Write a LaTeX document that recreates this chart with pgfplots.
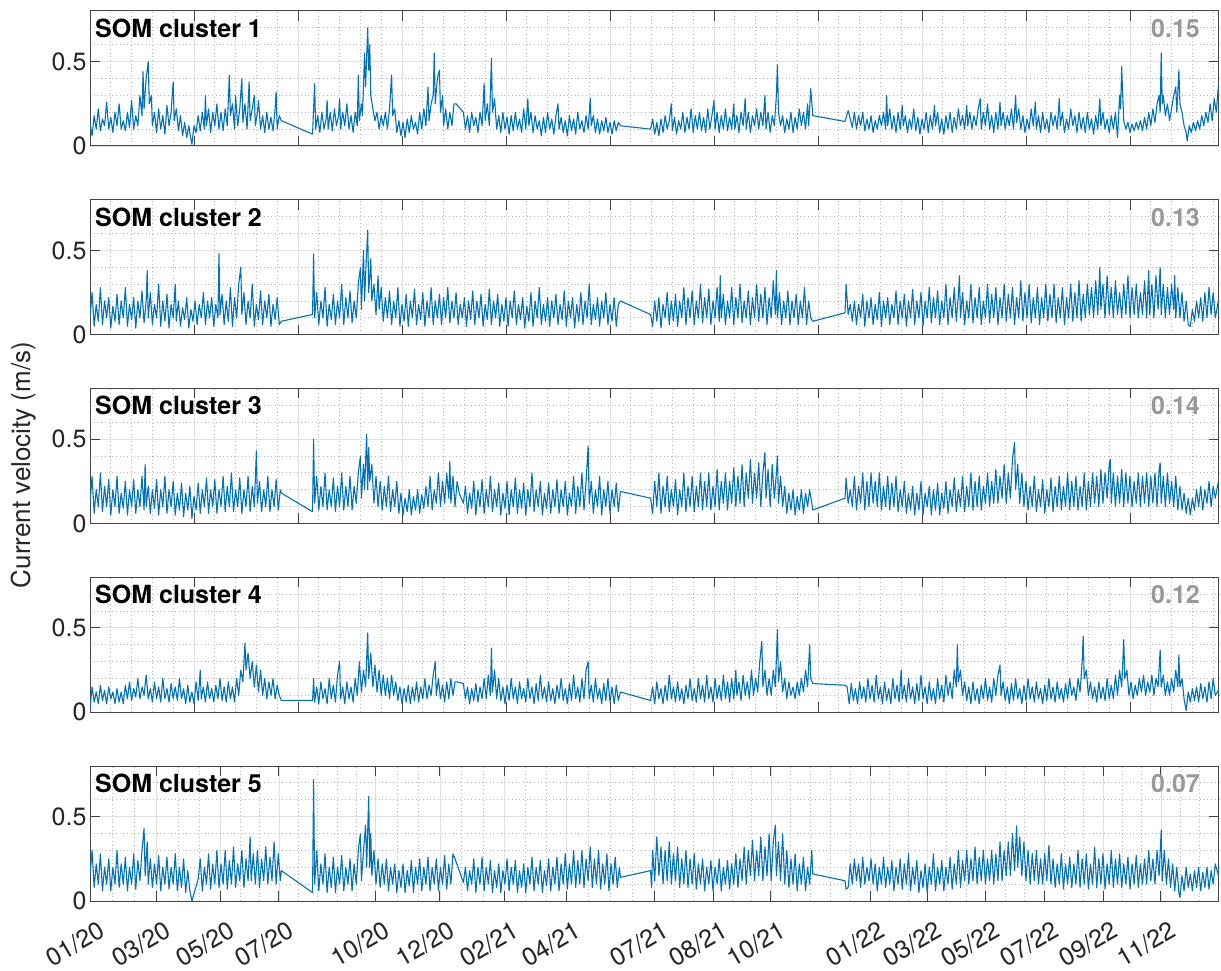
\documentclass[border=0pt]{standalone}
\usepackage{fontspec}
\setmainfont{TeX Gyre Heros}
\usepackage{pgfplots}
\pgfplotsset{compat=1.18}
\definecolor{mblue}{RGB}{0,114,189}
\definecolor{mgray}{RGB}{153,153,153}
\newcommand{\fs}{\fontsize{25}{30}\selectfont}
\pgfplotsset{
 panel/.style={
  scale only axis, width=1128.7pt, height=135pt,
  xmin=0, xmax=1085.3, ymin=0, ymax=0.8,
  ytick={0,0.5}, yticklabels={0,0.5},
  minor ytick={0.1,0.2,0.3,0.4,0.6,0.7},
  xtick={0,100,...,1000}, xticklabels={},
  minor xtick={20,40,60,80,120,140,160,180,220,240,260,280,320,340,360,380,420,440,460,480,520,540,560,580,620,640,660,680,720,740,760,780,820,840,860,880,920,940,960,980,1020,1040,1060,1080},
  grid=both,
  major grid style={draw=black!12, line width=0.9pt},
  minor grid style={draw=black!28, line width=0.9pt, dash pattern=on 0.9pt off 2.8pt},
  tick align=inside,
  major tick length=10pt, minor tick length=0pt,
  axis line style={draw=black!72, line width=1pt},
  every tick/.style={draw=black!75, line width=1pt},
  tick label style={font=\fs, text=black!85},
 },
 dat/.style={draw=mblue, line width=1.1pt, line join=round, mark=none},
}
\newcommand{\lab}[2]{%
 \node[anchor=base west, inner sep=0pt, xshift=5pt, yshift=-26.3pt, font=\fs\bfseries] at (rel axis cs:0,1) {SOM cluster #1};
 \node[anchor=base east, inner sep=0pt, xshift=-18.7pt, yshift=-26.3pt, font=\fs\bfseries, text=mgray] at (rel axis cs:1,1) {#2};}
\begin{document}
\begin{tikzpicture}
\useasboundingbox (0,0) rectangle (1221pt,970pt);
\node[rotate=90, anchor=base, font=\fontsize{26}{30}\selectfont, text=black!85] at (31pt,505pt) {Current velocity (m/s)};
% ---------- panel 1
\begin{axis}[panel, at={(90pt,824pt)}, anchor=south west]
\addplot[dat] coordinates {(0,.14)(2,.06)(4,.18)(6,.1)(8,.22)(10,.09)(12,.16)(14,.12)(16,.26)(18,.1)(20,.17)(22,.08)(24,.2)(26,.12)(28,.25)(30,.1)(32,.15)(34,.09)(36,.2)(38,.11)(40,.27)(42,.1)(44,.18)(46,.12)(48,.3)(50,.18)(51,.44)(52,.22)(54,.4)(56,.5)(57,.25)(59,.3)(60,.12)(62,.2)(64,.08)(66,.22)(68,.1)(70,.18)(72,.07)(74,.24)(76,.12)(78,.2)(80,.38)(81,.15)(83,.22)(85,.09)(87,.18)(89,.06)(91,.14)(93,.05)(95,.12)(97,.04)(98,.01)(100,.12)(102,.08)(104,.18)(106,.09)(108,.2)(110,.1)(111,.3)(112,.12)(114,.22)(116,.08)(118,.2)(120,.12)(122,.25)(124,.1)(126,.2)(128,.09)(130,.22)(132,.12)(134,.42)(135,.18)(137,.25)(139,.1)(140,.3)(142,.12)(144,.22)(146,.4)(147,.14)(149,.25)(151,.1)(153,.38)(154,.15)(156,.22)(158,.3)(159,.12)(161,.2)(162,.27)(164,.1)(166,.18)(168,.08)(170,.2)(172,.1)(174,.17)(176,.09)(178,.22)(179,.32)(180,.1)(182,.18)(184,.15)
(214,.07)(216,.37)(217,.1)(219,.18)(221,.08)(223,.2)(225,.1)(227,.16)(228,.27)(229,.1)(231,.2)(233,.09)(235,.22)(237,.12)(239,.18)(240,.28)(241,.1)(243,.2)(245,.12)(247,.25)(249,.1)(251,.18)(253,.08)(255,.2)(257,.12)(258,.42)(259,.15)(261,.25)(262,.18)(264,.55)(265,.35)(267,.7)(268,.45)(269,.6)(270,.3)(272,.22)(274,.15)(276,.2)(278,.1)(280,.18)(282,.12)(284,.2)(286,.1)(288,.22)(290,.42)(291,.18)(293,.22)(295,.08)(297,.15)(299,.06)(301,.14)(303,.05)(305,.16)(307,.08)(309,.18)(311,.1)(313,.14)(315,.07)(317,.2)(319,.1)(321,.22)(323,.12)(325,.35)(326,.15)(328,.25)(330,.3)(331,.55)(332,.25)(334,.4)(336,.45)(337,.2)(339,.3)(340,.12)(342,.22)(344,.1)(346,.2)(348,.12)(350,.25)(352,.25)
(359,.2)(361,.1)(363,.18)(365,.08)(367,.2)(369,.12)(371,.17)(373,.08)(375,.2)(377,.12)(379,.37)(380,.15)(382,.25)(384,.12)(386,.52)(387,.2)(389,.28)(391,.1)(393,.18)(395,.08)(397,.2)(399,.1)(401,.17)(403,.07)(405,.18)(407,.09)(409,.2)(411,.1)(413,.16)(415,.08)(417,.22)(419,.1)(421,.28)(422,.12)(424,.2)(426,.08)(428,.18)(430,.1)(432,.15)(434,.06)(436,.17)(438,.08)(440,.2)(442,.1)(444,.16)(446,.07)(448,.18)(450,.25)(451,.1)(453,.17)(455,.08)(457,.15)(459,.06)(461,.18)(463,.09)(465,.16)(467,.07)(469,.2)(471,.1)(473,.15)(475,.08)(477,.18)(479,.1)(481,.28)(482,.12)(484,.18)(486,.08)(488,.16)(490,.07)(492,.15)(494,.09)(496,.17)(498,.08)(500,.14)(502,.07)(504,.15)(506,.09)(508,.14)(510,.12)
(539,.1)(541,.16)(543,.07)(545,.14)(547,.06)(549,.16)(551,.08)(553,.18)(555,.1)(557,.15)(559,.25)(560,.09)(562,.17)(564,.07)(566,.15)(568,.1)(570,.2)(572,.08)(574,.17)(576,.1)(578,.22)(580,.08)(582,.18)(584,.1)(586,.2)(588,.09)(590,.17)(592,.08)(594,.22)(596,.1)(598,.18)(600,.27)(601,.1)(603,.2)(605,.08)(607,.18)(609,.1)(611,.22)(613,.09)(615,.17)(617,.1)(619,.25)(620,.1)(622,.18)(624,.08)(626,.2)(628,.12)(630,.28)(631,.1)(633,.2)(635,.08)(637,.18)(639,.12)(641,.22)(643,.1)(645,.2)(647,.12)(649,.3)(650,.1)(652,.2)(654,.08)(656,.18)(658,.12)(660,.3)(661,.48)(662,.2)(664,.12)(666,.18)(668,.08)(670,.16)(672,.1)(674,.2)(676,.08)(678,.17)(680,.1)(682,.22)(684,.12)(686,.2)(688,.1)(690,.25)(691,.12)(693,.34)(695,.18)
(726,.145)(729,.21)(733,.11)(735,.2)(737,.1)(739,.18)(741,.12)(743,.2)(745,.09)(747,.16)(749,.1)(751,.18)(753,.08)(755,.15)(757,.1)(759,.18)(761,.12)(763,.2)(765,.1)(766,.3)(767,.12)(769,.22)(771,.1)(773,.18)(775,.08)(777,.2)(779,.1)(781,.24)(782,.12)(784,.18)(786,.08)(788,.16)(790,.1)(792,.22)(794,.09)(796,.17)(798,.07)(800,.16)(802,.1)(804,.2)(806,.08)(808,.18)(810,.1)(812,.24)(813,.12)(815,.2)(817,.08)(819,.16)(821,.07)(823,.18)(825,.1)(827,.2)(829,.08)(831,.17)(833,.1)(835,.22)(837,.12)(839,.18)(841,.1)(843,.24)(844,.12)(846,.2)(848,.1)(850,.18)(852,.12)(854,.22)(856,.28)(857,.1)(859,.2)(861,.12)(863,.25)(865,.1)(867,.18)(869,.08)(871,.2)(873,.1)(875,.26)(876,.12)(878,.2)(880,.1)(882,.18)(884,.12)(886,.22)(888,.1)(890,.3)(891,.14)(893,.22)(895,.1)(897,.18)(899,.08)(901,.16)(903,.1)(905,.22)(907,.12)(909,.26)(910,.1)(912,.18)(914,.08)(916,.2)(918,.1)(920,.16)(922,.08)(924,.2)(926,.12)(928,.18)(930,.1)(932,.28)(933,.12)(935,.2)(937,.08)(939,.16)(941,.1)(943,.22)(945,.12)(947,.18)(949,.08)(951,.2)(953,.1)(955,.17)(957,.08)(959,.2)(961,.1)(963,.16)(965,.07)(967,.18)(969,.1)(971,.28)(972,.12)(974,.2)(976,.1)(978,.16)(980,.08)(982,.18)(984,.1)(986,.2)(988,.05)(990,.3)(991,.22)(992,.47)(993,.3)(994,.15)(996,.1)(998,.14)(1000,.08)(1002,.13)(1004,.09)(1006,.14)(1008,.1)(1010,.15)(1012,.09)(1014,.17)(1016,.1)(1018,.2)(1020,.12)(1022,.22)(1024,.14)(1026,.25)(1028,.3)(1029,.2)(1030,.55)(1031,.25)(1032,.3)(1034,.18)(1036,.25)(1038,.15)(1040,.22)(1042,.3)(1044,.35)(1045,.2)(1047,.45)(1048,.25)(1050,.2)(1052,.12)(1054,.08)(1055,.03)(1057,.12)(1059,.08)(1061,.14)(1063,.09)(1065,.15)(1067,.1)(1069,.18)(1071,.12)(1073,.2)(1075,.14)(1077,.25)(1079,.15)(1081,.28)(1083,.2)(1085,.36)};
\lab{1}{0.15}
\end{axis}
% ---------- panel 2
\begin{axis}[panel, at={(90pt,635.25pt)}, anchor=south west]
\addplot[dat] coordinates {(0,.1)(2,.25)(4,.05)(6,.18)(8,.08)(10,.28)(12,.06)(14,.2)(16,.1)(18,.22)(20,.04)(22,.17)(24,.08)(26,.24)(28,.06)(30,.2)(32,.1)(34,.28)(36,.05)(38,.18)(40,.09)(42,.22)(44,.04)(46,.2)(48,.1)(50,.26)(52,.07)(54,.2)(55,.38)(56,.1)(58,.25)(60,.06)(62,.18)(64,.1)(66,.3)(68,.05)(70,.2)(72,.08)(74,.24)(76,.04)(78,.18)(80,.1)(82,.3)(83,.08)(85,.2)(87,.05)(89,.16)(91,.09)(93,.22)(95,.04)(97,.15)(99,.08)(101,.2)(103,.06)(105,.18)(107,.1)(109,.25)(111,.06)(113,.2)(115,.1)(117,.22)(119,.05)(121,.18)(123,.1)(124,.48)(125,.12)(127,.24)(129,.06)(131,.2)(133,.08)(135,.28)(137,.05)(139,.22)(141,.1)(143,.3)(145,.4)(146,.12)(148,.25)(150,.06)(152,.2)(154,.1)(156,.3)(158,.05)(160,.18)(162,.09)(164,.26)(166,.06)(168,.2)(170,.1)(172,.24)(174,.05)(176,.18)(178,.09)(180,.22)(182,.06)(184,.08)
(214,.12)(215,.48)(216,.1)(218,.25)(220,.06)(222,.2)(224,.1)(226,.28)(228,.05)(230,.18)(232,.09)(234,.24)(236,.06)(238,.2)(240,.1)(242,.3)(244,.06)(246,.22)(248,.1)(250,.26)(252,.07)(254,.2)(256,.1)(258,.3)(260,.4)(261,.15)(263,.5)(264,.2)(265,.35)(267,.62)(268,.25)(270,.45)(271,.2)(273,.3)(275,.12)(277,.35)(278,.15)(280,.28)(282,.08)(284,.22)(286,.1)(288,.26)(290,.06)(292,.2)(294,.1)(296,.28)(298,.05)(300,.18)(302,.08)(304,.24)(306,.05)(308,.2)(310,.1)(312,.27)(314,.06)(316,.18)(318,.09)(320,.25)(322,.05)(324,.2)(326,.1)(328,.28)(330,.06)(332,.2)(334,.1)(336,.24)(338,.06)(340,.22)(342,.1)(344,.28)(346,.07)(348,.2)(350,.1)(352,.25)(354,.06)(356,.18)(358,.1)(360,.22)(362,.05)(364,.2)(366,.09)(368,.26)(370,.06)(372,.2)(374,.1)(376,.24)(378,.05)(380,.18)(382,.09)(384,.27)(386,.06)(388,.2)(390,.1)(392,.24)(394,.05)(396,.18)(398,.08)(400,.22)(402,.05)(404,.2)(406,.1)(408,.26)(410,.06)(412,.18)(414,.09)(416,.22)(418,.04)(420,.17)(422,.08)(424,.25)(426,.05)(428,.2)(430,.1)(432,.28)(434,.06)(436,.18)(438,.08)(440,.22)(442,.05)(444,.2)(446,.1)(448,.24)(450,.06)(452,.18)(454,.09)(456,.26)(458,.05)(460,.2)(462,.1)(464,.22)(466,.04)(468,.18)(470,.08)(472,.25)(474,.06)(476,.2)(478,.1)(480,.3)(482,.06)(484,.18)(486,.09)(488,.22)(490,.05)(492,.2)(494,.1)(496,.25)(498,.06)(500,.18)(502,.08)(504,.22)(506,.05)(508,.18)(510,.2)
(539,.12)(541,.05)(543,.2)(545,.08)(547,.22)(549,.04)(551,.18)(553,.1)(555,.25)(557,.06)(559,.2)(561,.08)(563,.24)(565,.05)(567,.2)(569,.1)(571,.28)(573,.06)(575,.22)(577,.1)(579,.26)(581,.06)(583,.2)(585,.1)(587,.3)(589,.07)(591,.22)(593,.1)(595,.27)(597,.06)(599,.2)(601,.1)(603,.28)(605,.08)(606,.35)(607,.1)(609,.24)(611,.06)(613,.2)(615,.1)(617,.28)(619,.06)(621,.22)(623,.1)(625,.3)(627,.07)(629,.2)(631,.1)(633,.26)(635,.06)(637,.22)(639,.1)(641,.3)(643,.08)(645,.24)(647,.1)(649,.28)(651,.06)(653,.22)(655,.1)(657,.32)(659,.12)(660,.38)(661,.1)(663,.25)(665,.06)(667,.2)(669,.1)(671,.26)(673,.06)(675,.2)(677,.1)(679,.24)(681,.06)(683,.2)(685,.1)(687,.28)(689,.06)(691,.2)(693,.1)(695,.08)
(726,.13)(727,.3)(729,.12)(731,.18)(733,.08)(735,.2)(737,.06)(739,.18)(741,.1)(743,.24)(745,.05)(747,.2)(749,.1)(751,.22)(753,.06)(755,.18)(757,.09)(759,.25)(761,.05)(763,.2)(765,.1)(767,.22)(769,.06)(771,.18)(773,.1)(775,.26)(777,.06)(779,.2)(781,.1)(783,.24)(785,.05)(787,.2)(789,.1)(791,.27)(793,.06)(795,.2)(797,.1)(799,.25)(801,.05)(803,.2)(805,.1)(807,.28)(809,.07)(811,.22)(813,.1)(815,.26)(817,.06)(819,.2)(821,.1)(823,.3)(825,.06)(827,.22)(829,.1)(831,.28)(833,.08)(835,.24)(836,.35)(837,.1)(839,.25)(841,.06)(843,.2)(845,.1)(847,.3)(849,.07)(851,.22)(853,.1)(855,.28)(857,.06)(859,.2)(861,.1)(863,.3)(865,.07)(867,.24)(869,.1)(871,.28)(873,.06)(875,.22)(877,.1)(879,.3)(881,.08)(883,.24)(885,.1)(887,.28)(889,.06)(891,.22)(893,.1)(895,.32)(897,.08)(899,.25)(901,.1)(903,.3)(905,.07)(907,.22)(909,.1)(911,.28)(913,.06)(915,.22)(917,.1)(919,.3)(921,.08)(923,.24)(925,.1)(927,.3)(929,.07)(931,.22)(933,.1)(935,.28)(937,.06)(939,.22)(941,.1)(943,.3)(945,.08)(947,.25)(949,.1)(951,.32)(953,.08)(955,.24)(957,.1)(959,.3)(961,.12)(963,.28)(965,.1)(967,.32)(969,.12)(971,.4)(972,.15)(974,.3)(976,.1)(978,.35)(980,.12)(982,.28)(984,.1)(986,.32)(988,.12)(990,.25)(992,.1)(994,.3)(996,.12)(998,.35)(1000,.1)(1002,.28)(1004,.12)(1006,.3)(1008,.1)(1010,.25)(1012,.12)(1014,.32)(1016,.1)(1018,.38)(1019,.12)(1021,.3)(1023,.1)(1025,.35)(1027,.15)(1029,.4)(1030,.12)(1032,.3)(1034,.1)(1036,.28)(1038,.12)(1040,.3)(1042,.15)(1043,.35)(1044,.1)(1046,.28)(1048,.1)(1050,.25)(1052,.08)(1054,.2)(1056,.06)(1058,.05)(1060,.15)(1062,.08)(1064,.2)(1066,.1)(1068,.22)(1070,.08)(1072,.25)(1074,.1)(1076,.28)(1078,.12)(1080,.25)(1082,.1)(1085,.2)};
\lab{2}{0.13}
\end{axis}
% ---------- panel 3
\begin{axis}[panel, at={(90pt,446.5pt)}, anchor=south west]
\addplot[dat] coordinates {(0,.12)(2,.28)(4,.06)(6,.2)(8,.1)(10,.3)(12,.07)(14,.22)(16,.1)(18,.26)(20,.05)(22,.2)(24,.1)(26,.28)(28,.06)(30,.18)(32,.09)(34,.25)(36,.05)(38,.2)(40,.1)(42,.26)(44,.06)(46,.2)(48,.1)(50,.28)(52,.08)(53,.35)(54,.1)(56,.22)(58,.06)(60,.2)(62,.09)(64,.26)(66,.05)(68,.2)(70,.1)(72,.28)(74,.06)(76,.2)(78,.1)(80,.25)(82,.05)(84,.18)(86,.08)(88,.24)(90,.04)(92,.18)(94,.08)(96,.22)(98,.03)(100,.16)(102,.08)(104,.24)(106,.06)(108,.2)(110,.1)(112,.27)(114,.06)(116,.2)(118,.1)(120,.26)(122,.06)(124,.2)(126,.1)(128,.28)(130,.07)(132,.22)(134,.1)(136,.3)(138,.07)(140,.2)(142,.1)(144,.27)(146,.06)(148,.2)(150,.1)(152,.28)(154,.07)(156,.22)(158,.1)(160,.43)(161,.12)(163,.25)(165,.07)(167,.2)(169,.1)(171,.28)(173,.07)(175,.2)(177,.1)(179,.26)(181,.08)(183,.2)(184,.18)
(214,.07)(215,.5)(216,.12)(218,.28)(220,.08)(222,.22)(224,.1)(226,.3)(228,.08)(230,.2)(232,.1)(234,.27)(236,.07)(238,.22)(240,.1)(242,.3)(244,.08)(246,.22)(248,.1)(250,.28)(252,.08)(254,.22)(256,.12)(258,.3)(260,.4)(261,.15)(263,.35)(264,.2)(266,.53)(267,.2)(268,.45)(269,.25)(271,.35)(273,.12)(275,.28)(277,.1)(279,.25)(281,.08)(283,.22)(285,.1)(287,.28)(289,.07)(291,.2)(293,.1)(295,.25)(297,.06)(299,.18)(301,.05)(303,.15)(305,.07)(307,.2)(309,.05)(311,.16)(313,.08)(315,.2)(317,.06)(319,.17)(321,.09)(323,.22)(325,.1)(327,.28)(329,.08)(331,.2)(333,.12)(335,.3)(337,.1)(339,.25)(341,.12)(343,.3)(345,.15)(346,.37)(347,.12)(349,.28)(351,.1)(353,.25)(355,.18)
(359,.12)(361,.22)(363,.06)(365,.18)(367,.09)(369,.25)(371,.05)(373,.2)(375,.1)(377,.26)(379,.06)(381,.2)(383,.1)(385,.28)(387,.07)(389,.2)(391,.1)(393,.24)(395,.05)(397,.18)(399,.09)(401,.25)(403,.05)(405,.2)(407,.1)(409,.27)(411,.06)(413,.2)(415,.09)(417,.24)(419,.05)(421,.2)(423,.1)(425,.3)(427,.07)(429,.2)(431,.1)(433,.25)(435,.05)(437,.18)(439,.09)(441,.24)(443,.06)(445,.2)(447,.1)(449,.26)(451,.06)(453,.2)(455,.1)(457,.25)(459,.05)(461,.18)(463,.1)(465,.28)(467,.06)(469,.22)(471,.1)(473,.3)(475,.08)(477,.25)(479,.46)(480,.12)(482,.25)(484,.06)(486,.2)(488,.1)(490,.28)(492,.05)(494,.2)(496,.1)(498,.25)(500,.06)(502,.2)(504,.1)(506,.24)(508,.07)(510,.19)
(539,.15)(541,.06)(543,.25)(545,.1)(547,.3)(549,.06)(551,.22)(553,.1)(555,.28)(557,.07)(559,.2)(561,.1)(563,.26)(565,.05)(567,.2)(569,.1)(571,.3)(573,.07)(575,.22)(577,.1)(579,.28)(581,.07)(583,.22)(585,.1)(587,.3)(589,.08)(591,.25)(593,.1)(595,.3)(597,.08)(599,.22)(601,.1)(603,.32)(605,.08)(607,.25)(609,.12)(611,.3)(613,.08)(615,.25)(617,.12)(619,.33)(621,.1)(623,.28)(625,.12)(627,.35)(629,.1)(631,.3)(633,.15)(635,.38)(637,.12)(639,.3)(641,.15)(643,.36)(645,.1)(647,.3)(649,.42)(650,.15)(652,.32)(654,.1)(656,.35)(658,.15)(660,.3)(661,.4)(662,.12)(664,.28)(666,.1)(668,.22)(670,.06)(672,.18)(674,.08)(676,.2)(678,.05)(680,.16)(682,.08)(684,.2)(686,.06)(688,.18)(690,.1)(692,.2)(695,.08)
(726,.15)(727,.27)(729,.12)(731,.2)(733,.1)(735,.28)(737,.08)(739,.22)(741,.12)(743,.3)(745,.08)(747,.25)(749,.1)(751,.3)(753,.12)(755,.25)(757,.1)(759,.3)(761,.08)(763,.22)(765,.1)(767,.28)(769,.08)(771,.24)(773,.1)(775,.28)(777,.07)(779,.2)(781,.1)(783,.25)(785,.06)(787,.18)(789,.08)(791,.22)(793,.05)(795,.18)(797,.08)(799,.25)(801,.05)(803,.18)(805,.1)(807,.22)(809,.05)(811,.2)(813,.08)(815,.24)(817,.05)(819,.18)(821,.09)(823,.25)(825,.06)(827,.2)(829,.1)(831,.27)(833,.07)(835,.2)(837,.1)(839,.28)(841,.07)(843,.22)(845,.1)(847,.3)(849,.08)(851,.25)(853,.1)(855,.28)(857,.08)(859,.22)(861,.12)(863,.3)(865,.1)(867,.25)(869,.12)(871,.32)(873,.12)(875,.28)(877,.15)(879,.35)(881,.12)(883,.3)(885,.15)(887,.38)(889,.48)(890,.2)(892,.35)(894,.12)(896,.3)(898,.1)(900,.25)(902,.08)(904,.22)(906,.1)(908,.28)(910,.07)(912,.2)(914,.1)(916,.26)(918,.06)(920,.2)(922,.1)(924,.27)(926,.07)(928,.22)(930,.1)(932,.28)(934,.08)(936,.22)(938,.1)(940,.3)(942,.08)(944,.25)(946,.1)(948,.28)(950,.08)(952,.22)(954,.1)(956,.3)(958,.08)(960,.25)(962,.1)(964,.3)(966,.12)(968,.28)(970,.1)(972,.32)(974,.12)(976,.3)(978,.15)(980,.35)(981,.38)(982,.12)(984,.3)(986,.1)(988,.28)(990,.12)(992,.32)(994,.1)(996,.3)(998,.12)(1000,.28)(1002,.1)(1004,.25)(1006,.12)(1008,.3)(1010,.1)(1012,.28)(1014,.12)(1016,.3)(1018,.1)(1020,.28)(1022,.12)(1024,.3)(1026,.1)(1028,.32)(1029,.36)(1030,.12)(1032,.28)(1034,.1)(1036,.3)(1038,.12)(1040,.25)(1042,.1)(1044,.28)(1046,.08)(1048,.22)(1050,.08)(1052,.18)(1054,.06)(1056,.15)(1058,.05)(1060,.15)(1062,.08)(1064,.2)(1066,.1)(1068,.22)(1070,.08)(1072,.2)(1074,.12)(1076,.25)(1078,.1)(1080,.22)(1082,.15)(1085,.25)};
\lab{3}{0.14}
\end{axis}
% ---------- panel 4
\begin{axis}[panel, at={(90pt,257.75pt)}, anchor=south west]
\addplot[dat] coordinates {(0,.02)(2,.15)(4,.06)(6,.12)(8,.05)(10,.16)(12,.07)(14,.13)(16,.05)(18,.15)(20,.08)(22,.12)(24,.05)(26,.14)(28,.06)(30,.12)(32,.05)(34,.16)(36,.08)(38,.18)(40,.07)(42,.14)(44,.09)(46,.2)(48,.08)(50,.15)(52,.1)(54,.22)(56,.08)(58,.14)(60,.06)(62,.18)(64,.08)(66,.15)(68,.06)(70,.2)(72,.08)(74,.14)(76,.06)(78,.17)(80,.08)(82,.15)(84,.07)(86,.2)(88,.08)(90,.14)(92,.05)(94,.16)(96,.06)(98,.12)(100,.05)(102,.18)(104,.07)(106,.25)(107,.08)(109,.15)(111,.06)(113,.18)(115,.08)(117,.14)(119,.06)(121,.16)(123,.08)(125,.2)(127,.07)(129,.15)(131,.06)(133,.18)(135,.08)(137,.15)(139,.06)(141,.2)(143,.1)(145,.25)(147,.18)(149,.41)(150,.25)(152,.35)(154,.2)(156,.3)(158,.15)(160,.28)(162,.12)(164,.25)(166,.1)(168,.2)(170,.08)(172,.18)(174,.1)(176,.2)(178,.08)(180,.16)(182,.1)(184,.07)
(214,.07)(215,.2)(216,.06)(218,.15)(220,.05)(222,.18)(224,.08)(226,.14)(228,.05)(230,.2)(232,.08)(234,.16)(236,.06)(238,.22)(240,.3)(241,.08)(243,.15)(245,.05)(247,.18)(249,.08)(251,.15)(253,.06)(255,.2)(257,.1)(259,.3)(261,.12)(263,.25)(265,.15)(267,.47)(268,.2)(270,.35)(272,.15)(274,.28)(276,.12)(278,.25)(280,.1)(282,.22)(284,.1)(286,.2)(288,.08)(290,.22)(292,.1)(294,.18)(296,.07)(298,.15)(300,.05)(302,.14)(304,.06)(306,.16)(308,.05)(310,.15)(312,.07)(314,.18)(316,.06)(318,.15)(320,.08)(322,.2)(324,.08)(326,.16)(328,.1)(330,.22)(332,.3)(333,.1)(335,.2)(337,.08)(339,.16)(341,.06)(343,.18)(345,.08)(347,.2)(349,.1)(351,.18)(353,.18)
(359,.17)(361,.08)(363,.15)(365,.05)(367,.14)(369,.07)(371,.17)(373,.06)(375,.15)(377,.08)(379,.2)(381,.08)(383,.22)(385,.1)(386,.38)(387,.12)(389,.25)(391,.08)(393,.2)(395,.07)(397,.15)(399,.05)(401,.16)(403,.07)(405,.2)(407,.08)(409,.15)(411,.05)(413,.18)(415,.08)(417,.14)(419,.06)(421,.2)(423,.08)(425,.15)(427,.05)(429,.17)(431,.07)(433,.22)(435,.08)(437,.15)(439,.06)(441,.18)(443,.07)(445,.14)(447,.05)(449,.16)(451,.08)(453,.2)(455,.07)(457,.14)(459,.05)(461,.17)(463,.07)(465,.22)(467,.08)(469,.15)(471,.06)(473,.2)(475,.08)(477,.25)(479,.3)(480,.08)(482,.16)(484,.06)(486,.2)(488,.08)(490,.14)(492,.05)(494,.17)(496,.07)(498,.2)(500,.06)(502,.15)(504,.05)(506,.16)(508,.07)(510,.12)
(539,.07)(541,.15)(543,.05)(545,.18)(547,.08)(549,.14)(551,.05)(553,.16)(555,.07)(557,.22)(559,.08)(561,.15)(563,.06)(565,.18)(567,.07)(569,.14)(571,.05)(573,.16)(575,.08)(577,.2)(579,.07)(581,.14)(583,.06)(585,.2)(587,.08)(589,.16)(591,.06)(593,.22)(595,.08)(597,.15)(599,.06)(601,.2)(603,.08)(605,.16)(607,.07)(609,.22)(611,.08)(613,.18)(615,.06)(617,.2)(619,.08)(621,.25)(622,.1)(624,.18)(626,.07)(628,.22)(630,.1)(632,.18)(634,.08)(636,.25)(638,.1)(640,.2)(642,.12)(644,.3)(646,.42)(647,.15)(649,.25)(651,.1)(653,.2)(655,.1)(657,.25)(659,.15)(661,.49)(662,.18)(664,.3)(666,.12)(668,.2)(670,.08)(672,.18)(674,.1)(676,.15)(678,.08)(680,.18)(682,.1)(684,.2)(686,.12)(688,.25)(690,.15)(692,.4)(693,.2)(695,.17)
(726,.16)(728,.15)(730,.05)(732,.17)(734,.07)(736,.14)(738,.05)(740,.18)(742,.08)(744,.15)(746,.06)(748,.2)(750,.08)(752,.16)(754,.06)(756,.22)(758,.08)(760,.15)(762,.05)(764,.18)(766,.07)(768,.14)(770,.05)(772,.2)(774,.08)(776,.16)(778,.06)(780,.25)(781,.08)(783,.16)(785,.06)(787,.2)(789,.08)(791,.15)(793,.05)(795,.17)(797,.07)(799,.22)(801,.08)(803,.15)(805,.05)(807,.18)(809,.07)(811,.14)(813,.05)(815,.2)(817,.08)(819,.16)(821,.06)(823,.22)(825,.1)(827,.18)(829,.08)(831,.25)(833,.15)(834,.4)(835,.18)(837,.25)(839,.1)(841,.18)(843,.07)(845,.15)(847,.05)(849,.18)(851,.07)(853,.14)(855,.05)(857,.16)(859,.08)(861,.2)(863,.07)(865,.15)(867,.06)(869,.2)(871,.1)(873,.22)(875,.28)(876,.1)(878,.18)(880,.07)(882,.15)(884,.05)(886,.17)(888,.07)(890,.2)(892,.08)(894,.14)(896,.05)(898,.16)(900,.07)(902,.2)(904,.08)(906,.15)(908,.06)(910,.18)(912,.08)(914,.14)(916,.05)(918,.16)(920,.07)(922,.2)(924,.08)(926,.15)(928,.06)(930,.18)(932,.08)(934,.14)(936,.06)(938,.17)(940,.08)(942,.2)(944,.1)(946,.15)(948,.07)(950,.2)(952,.12)(954,.3)(955,.45)(956,.2)(958,.25)(960,.1)(962,.18)(964,.08)(966,.15)(968,.06)(970,.18)(972,.08)(974,.15)(976,.07)(978,.2)(980,.08)(982,.16)(984,.08)(986,.22)(988,.1)(990,.25)(992,.15)(994,.43)(995,.2)(997,.25)(999,.1)(1001,.18)(1003,.08)(1005,.16)(1007,.1)(1009,.2)(1011,.12)(1013,.22)(1015,.1)(1017,.18)(1019,.12)(1021,.22)(1023,.1)(1025,.2)(1027,.15)(1029,.37)(1030,.15)(1032,.22)(1034,.1)(1036,.18)(1038,.1)(1040,.2)(1042,.12)(1044,.25)(1046,.15)(1047,.34)(1048,.15)(1050,.2)(1052,.08)(1054,.01)(1056,.12)(1058,.06)(1060,.14)(1062,.07)(1064,.15)(1066,.06)(1068,.17)(1070,.08)(1072,.15)(1074,.06)(1076,.18)(1078,.08)(1080,.2)(1082,.1)(1085,.13)};
\lab{4}{0.12}
\end{axis}
% ---------- panel 5
\begin{axis}[panel, at={(90pt,69pt)}, anchor=south west,
  xtick={0,64.1,125.7,181.7,274.7,336.5,398.8,458.4,542.6,599.3,654.8,750,805.5,860.9,917.6,974.3,1029.8},
  xticklabels={01/20,03/20,05/20,07/20,10/20,12/20,02/21,04/21,07/21,08/21,10/21,01/22,03/22,05/22,07/22,09/22,11/22},
  minor xtick={21.3,42.7,84.6,105.2,144.3,163.1,200.3,218.9,237.5,256.2,295.3,316,357.3,378,418.7,438.5,479.4,500.5,521.5,561.5,580.4,617.8,636.3,673.8,692.9,711.9,731,768.5,787,823.9,842.4,879.8,898.7,936.5,955.4,992.8,1011.3,1048.3,1066.7},
  xticklabel style={font=\fs, inner sep=0pt, xshift=12pt, yshift=-27pt, rotate=30, anchor=east}]
\addplot[dat] coordinates {(0,.15)(2,.3)(4,.08)(6,.22)(8,.1)(10,.28)(12,.06)(14,.2)(16,.1)(18,.25)(20,.06)(22,.2)(24,.1)(26,.3)(28,.08)(30,.22)(32,.1)(34,.26)(36,.06)(38,.2)(40,.1)(42,.28)(44,.07)(46,.24)(48,.12)(50,.3)(52,.43)(53,.15)(55,.35)(56,.1)(58,.25)(60,.08)(62,.22)(64,.1)(66,.27)(68,.06)(70,.2)(72,.1)(74,.26)(76,.07)(78,.2)(80,.1)(82,.28)(84,.06)(86,.2)(88,.08)(90,.25)(92,.05)(94,.18)(96,.06)(98,.0)(104,.13)(106,.25)(108,.06)(110,.2)(112,.1)(114,.28)(116,.07)(118,.22)(120,.1)(122,.3)(124,.08)(126,.22)(128,.1)(130,.3)(132,.07)(134,.24)(136,.1)(138,.32)(140,.08)(142,.22)(144,.12)(146,.3)(148,.08)(150,.25)(152,.12)(154,.38)(155,.12)(157,.28)(159,.1)(161,.3)(163,.08)(165,.25)(167,.12)(169,.32)(171,.1)(173,.26)(175,.12)(177,.35)(179,.1)(181,.28)(183,.12)(184,.18)
(214,.05)(215,.72)(216,.1)(218,.3)(220,.06)(222,.22)(224,.1)(226,.28)(228,.05)(230,.2)(232,.08)(234,.26)(236,.05)(238,.2)(240,.1)(242,.27)(244,.06)(246,.2)(248,.1)(250,.25)(252,.06)(254,.22)(256,.1)(258,.3)(260,.4)(261,.12)(263,.3)(265,.45)(266,.2)(268,.62)(269,.2)(270,.4)(271,.15)(273,.3)(275,.1)(277,.25)(279,.08)(281,.22)(283,.1)(285,.25)(287,.06)(289,.2)(291,.1)(293,.22)(295,.05)(297,.18)(299,.08)(301,.22)(303,.05)(305,.18)(307,.09)(309,.24)(311,.05)(313,.2)(315,.1)(317,.25)(319,.06)(321,.2)(323,.1)(325,.26)(327,.06)(329,.2)(331,.1)(333,.25)(335,.06)(337,.2)(339,.1)(341,.27)(343,.07)(345,.22)(347,.1)(349,.28)(351,.25)
(359,.11)(361,.2)(363,.06)(365,.18)(367,.1)(369,.25)(371,.05)(373,.2)(375,.1)(377,.26)(379,.06)(381,.2)(383,.1)(385,.24)(387,.05)(389,.18)(391,.08)(393,.22)(395,.05)(397,.18)(399,.1)(401,.25)(403,.06)(405,.2)(407,.1)(409,.24)(411,.05)(413,.18)(415,.08)(417,.22)(419,.05)(421,.2)(423,.1)(425,.26)(427,.06)(429,.2)(431,.1)(433,.24)(435,.05)(437,.18)(439,.09)(441,.25)(443,.06)(445,.2)(447,.1)(449,.26)(451,.06)(453,.22)(455,.1)(457,.28)(459,.07)(461,.22)(463,.1)(465,.3)(467,.08)(469,.24)(471,.1)(473,.3)(475,.08)(477,.25)(479,.12)(481,.32)(483,.08)(485,.25)(487,.1)(489,.3)(491,.07)(493,.22)(495,.1)(497,.28)(499,.06)(501,.22)(503,.1)(505,.26)(507,.08)(509,.2)(510,.14)
(539,.18)(540,.08)(541,.3)(543,.12)(545,.38)(547,.15)(549,.32)(551,.1)(553,.3)(555,.12)(557,.35)(559,.1)(561,.28)(563,.12)(565,.32)(567,.08)(569,.25)(571,.1)(573,.3)(575,.08)(577,.25)(579,.1)(581,.28)(583,.07)(585,.22)(587,.1)(589,.25)(591,.06)(593,.2)(595,.1)(597,.24)(599,.06)(601,.2)(603,.1)(605,.25)(607,.06)(609,.2)(611,.1)(613,.24)(615,.07)(617,.22)(619,.1)(621,.28)(623,.08)(625,.25)(627,.12)(629,.32)(631,.1)(633,.3)(635,.15)(637,.36)(639,.12)(641,.3)(643,.15)(645,.38)(647,.12)(649,.32)(651,.15)(653,.4)(655,.12)(657,.35)(659,.45)(660,.15)(662,.35)(664,.12)(666,.4)(668,.1)(670,.3)(672,.08)(674,.25)(676,.1)(678,.28)(680,.06)(682,.22)(684,.1)(686,.26)(688,.06)(690,.2)(692,.1)(694,.3)(695,.16)
(726,.12)(727,.07)(729,.08)(731,.22)(733,.1)(735,.25)(737,.12)(739,.22)(741,.08)(743,.26)(745,.1)(747,.2)(749,.12)(751,.25)(753,.1)(755,.22)(757,.06)(759,.2)(761,.1)(763,.26)(765,.08)(767,.2)(769,.1)(771,.24)(773,.06)(775,.2)(777,.1)(779,.25)(781,.07)(783,.22)(785,.1)(787,.28)(789,.06)(791,.2)(793,.1)(795,.24)(797,.05)(799,.18)(801,.08)(803,.22)(805,.05)(807,.2)(809,.1)(811,.28)(813,.06)(815,.2)(817,.1)(819,.24)(821,.06)(823,.2)(825,.1)(827,.26)(829,.07)(831,.22)(833,.1)(835,.3)(837,.08)(839,.24)(841,.12)(843,.3)(845,.1)(847,.25)(849,.12)(851,.32)(853,.1)(855,.26)(857,.12)(859,.3)(861,.1)(863,.25)(865,.12)(867,.3)(869,.1)(871,.28)(873,.12)(875,.35)(877,.12)(879,.3)(881,.15)(883,.35)(885,.15)(887,.4)(889,.18)(891,.445)(892,.2)(894,.38)(896,.15)(898,.35)(900,.12)(902,.3)(904,.1)(906,.28)(908,.12)(910,.3)(912,.1)(914,.25)(916,.1)(918,.28)(920,.12)(922,.33)(924,.1)(926,.25)(928,.08)(930,.22)(932,.1)(934,.28)(936,.07)(938,.22)(940,.1)(942,.26)(944,.08)(946,.22)(948,.1)(950,.3)(952,.08)(954,.25)(956,.1)(958,.28)(960,.07)(962,.22)(964,.1)(966,.32)(968,.08)(970,.25)(972,.1)(974,.28)(976,.07)(978,.22)(980,.1)(982,.3)(984,.08)(986,.25)(988,.1)(990,.28)(992,.08)(994,.22)(996,.1)(998,.26)(1000,.07)(1002,.22)(1004,.1)(1006,.27)(1008,.08)(1010,.22)(1012,.1)(1014,.25)(1016,.1)(1018,.3)(1020,.12)(1022,.25)(1024,.1)(1026,.3)(1028,.15)(1030,.42)(1031,.12)(1033,.3)(1035,.1)(1037,.25)(1039,.08)(1041,.22)(1043,.06)(1045,.2)(1047,.05)(1048,.02)(1050,.15)(1052,.06)(1054,.2)(1056,.08)(1058,.16)(1060,.06)(1062,.18)(1064,.08)(1066,.2)(1068,.06)(1070,.17)(1072,.08)(1074,.2)(1076,.07)(1078,.18)(1080,.1)(1082,.22)(1085,.15)};
\lab{5}{0.07}
\end{axis}
\end{tikzpicture}
\end{document}
